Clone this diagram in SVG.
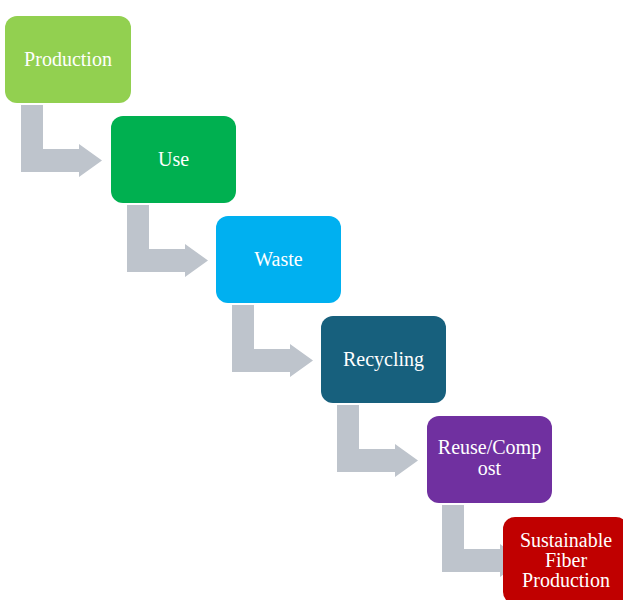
<svg xmlns="http://www.w3.org/2000/svg" width="623" height="600" viewBox="0 0 623 600">
<style>
.arrow{fill:#BEC4CC}
.box{stroke:none}
.lbl{font-family:"Liberation Serif","Times New Roman",serif;font-size:20px;fill:#FFFFFF;text-anchor:middle}
</style>
<defs>
<polygon id="bent" points="21,105 43,105 43,149 79,149 79,144 102,160.5 79,177 79,172 21,172"/>
</defs>
<rect width="623" height="600" fill="#FFFFFF"/>
<g id="connectors">
<use href="#bent" class="arrow"/>
<use href="#bent" class="arrow" transform="translate(106,100)"/>
<use href="#bent" class="arrow" transform="translate(211,200)"/>
<use href="#bent" class="arrow" transform="translate(316,300)"/>
<use href="#bent" class="arrow" transform="translate(421,400)"/>
</g>
<g id="production">
<rect class="box" x="5" y="16" width="126" height="87" rx="12" fill="#92D050"/>
<text class="lbl" x="68" y="66">Production</text>
</g>
<g id="use">
<rect class="box" x="111" y="116" width="125" height="87" rx="12" fill="#00B050"/>
<text class="lbl" x="173.5" y="166">Use</text>
</g>
<g id="waste">
<rect class="box" x="216" y="216" width="125" height="87" rx="12" fill="#00B0F0"/>
<text class="lbl" x="278.5" y="266">Waste</text>
</g>
<g id="recycling">
<rect class="box" x="321" y="316" width="125" height="87" rx="12" fill="#17607D"/>
<text class="lbl" x="383.5" y="366">Recycling</text>
</g>
<g id="reuse">
<rect class="box" x="427" y="416" width="125" height="87" rx="12" fill="#7030A0"/>
<text class="lbl" x="489.5" y="454">Reuse/Comp</text>
<text class="lbl" x="489.5" y="475">ost</text>
</g>
<g id="sustainable">
<rect class="box" x="503" y="517" width="125" height="87" rx="12" fill="#C00000"/>
<text class="lbl" x="566" y="547">Sustainable</text>
<text class="lbl" x="566" y="567">Fiber</text>
<text class="lbl" x="566" y="587">Production</text>
</g>
</svg>
